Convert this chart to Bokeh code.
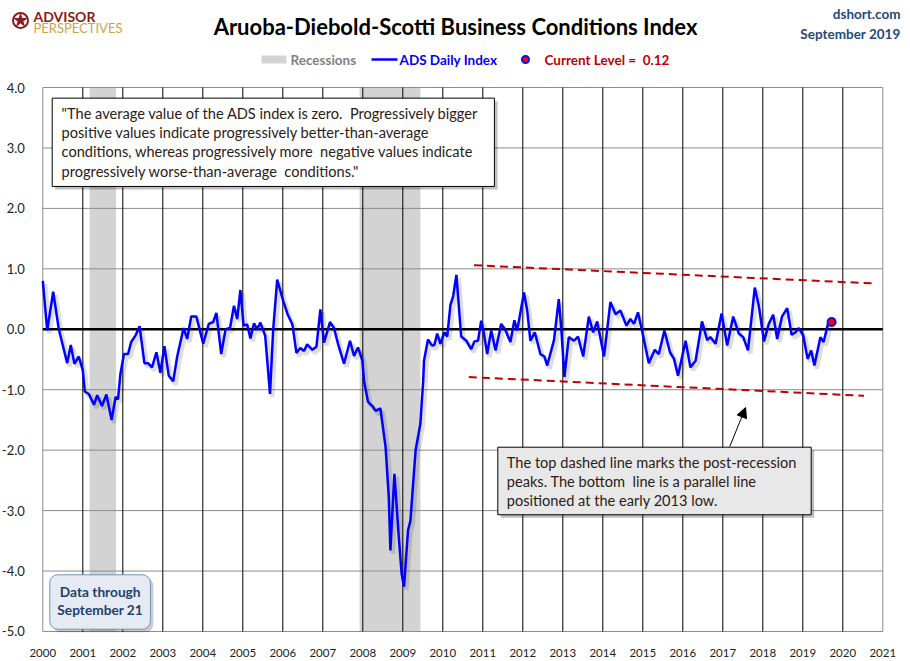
from bokeh.embed import file_html
from bokeh.layouts import column
from bokeh.models import (Arrow, FixedTicker, Label, NormalHead, NumeralTickFormatter, Range1d)
from bokeh.plotting import figure
from bokeh.resources import INLINE
import numpy as np

# ADS index (fractional year, index value)
ads_year = [
    2000.00, 2000.11, 2000.26, 2000.40, 2000.61, 2000.70, 2000.79, 2000.90,
    2001.00, 2001.05, 2001.15, 2001.28, 2001.36, 2001.48, 2001.59, 2001.72,
    2001.82, 2001.88, 2001.94, 2002.03, 2002.13, 2002.21, 2002.32, 2002.42,
    2002.54, 2002.63, 2002.73, 2002.84, 2002.94, 2003.04, 2003.15, 2003.26,
    2003.36, 2003.52, 2003.61, 2003.71, 2003.84, 2004.01, 2004.15, 2004.26,
    2004.34, 2004.46, 2004.57, 2004.68, 2004.78, 2004.86, 2004.94, 2005.02,
    2005.11, 2005.19, 2005.28, 2005.36, 2005.44, 2005.56, 2005.68, 2005.76,
    2005.86, 2006.01, 2006.12, 2006.24, 2006.34, 2006.44, 2006.53, 2006.61,
    2006.74, 2006.84, 2006.94, 2007.03, 2007.18, 2007.28, 2007.38, 2007.53,
    2007.68, 2007.78, 2007.88, 2007.99, 2008.03, 2008.13, 2008.24, 2008.32,
    2008.44, 2008.57, 2008.65, 2008.69, 2008.79, 2008.90, 2008.97, 2009.03,
    2009.13, 2009.19, 2009.32, 2009.44, 2009.51, 2009.53, 2009.63, 2009.73,
    2009.79, 2009.86, 2009.94, 2010.04, 2010.11, 2010.19, 2010.26, 2010.34,
    2010.46, 2010.59, 2010.71, 2010.79, 2010.88, 2010.96, 2011.03, 2011.11,
    2011.21, 2011.32, 2011.46, 2011.57, 2011.69, 2011.79, 2011.86, 2012.03,
    2012.11, 2012.19, 2012.30, 2012.44, 2012.54, 2012.61, 2012.78, 2012.90,
    2012.96, 2013.04, 2013.15, 2013.28, 2013.38, 2013.51, 2013.65, 2013.76,
    2013.86, 2014.03, 2014.19, 2014.32, 2014.44, 2014.59, 2014.69, 2014.78,
    2014.88, 2014.98, 2015.15, 2015.30, 2015.40, 2015.54, 2015.68, 2015.78,
    2015.88, 2016.07, 2016.19, 2016.32, 2016.48, 2016.61, 2016.69, 2016.82,
    2016.97, 2017.11, 2017.26, 2017.40, 2017.51, 2017.63, 2017.80, 2017.90,
    2018.03, 2018.15, 2018.26, 2018.36, 2018.48, 2018.61, 2018.72, 2018.82,
    2018.90, 2019.01, 2019.12, 2019.21, 2019.29, 2019.44, 2019.52, 2019.63,
    2019.72,
]
ads_value = [
    0.80, -0.02, 0.62, 0.00, -0.56, -0.26, -0.57, -0.45,
    -0.68, -1.03, -1.07, -1.25, -1.09, -1.27, -1.08, -1.50,
    -1.12, -1.16, -0.74, -0.41, -0.41, -0.21, -0.10, 0.05,
    -0.56, -0.56, -0.63, -0.38, -0.72, -0.28, -0.77, -0.86,
    -0.45, 0.02, -0.16, 0.21, 0.21, -0.24, 0.09, 0.12,
    0.27, -0.41, 0.00, 0.02, 0.39, 0.17, 0.65, 0.06,
    0.08, -0.15, 0.10, 0.00, 0.11, -0.11, -1.07, 0.00,
    0.82, 0.47, 0.25, 0.08, -0.39, -0.31, -0.36, -0.25,
    -0.34, -0.29, 0.33, -0.22, 0.12, 0.02, -0.24, -0.57,
    -0.19, -0.44, -0.30, -0.52, -0.85, -1.20, -1.27, -1.35,
    -1.31, -1.95, -2.78, -3.66, -2.39, -3.44, -4.04, -4.26,
    -3.33, -3.17, -2.00, -1.56, -0.85, -0.52, -0.17, -0.27,
    -0.26, -0.07, -0.24, -0.05, -0.12, 0.40, 0.55, 0.90,
    -0.12, -0.19, -0.33, -0.20, -0.19, 0.14, -0.08, -0.41,
    -0.02, -0.35, 0.09, -0.02, -0.21, 0.15, -0.02, 0.61,
    0.31, -0.19, -0.05, -0.41, -0.45, -0.60, -0.18, 0.50,
    0.03, -0.79, -0.13, -0.19, -0.12, -0.45, 0.21, -0.05,
    0.13, -0.45, 0.45, 0.25, 0.31, 0.06, 0.17, 0.09,
    0.28, -0.02, -0.56, -0.34, -0.41, -0.02, -0.38, -0.49,
    -0.77, -0.19, -0.63, -0.52, 0.13, -0.18, -0.13, -0.24,
    0.26, -0.27, 0.21, -0.07, -0.13, -0.35, 0.69, 0.39,
    -0.20, 0.09, 0.24, -0.16, 0.21, 0.35, -0.09, -0.05,
    0.02, -0.10, -0.49, -0.35, -0.60, -0.13, -0.21, 0.09,
    0.12,
]

current_year = [2019.72]
current_level = [0.12]

recession_start = [2001.17, 2007.92]
recession_end = [2001.83, 2009.44]

trend_top_x = [2010.78, 2020.73]
trend_top_y = [1.06, 0.76]
trend_bottom_x = [2010.65, 2020.53]
trend_bottom_y = [-0.79, -1.10]

year_labels = list(range(2000, 2022))
year_grid = list(range(2001, 2021))
value_ticks = [-5, -4, -3, -2, -1, 0, 1, 2, 3, 4]
X_START, X_END = 2000, 2021
Y_LOW, Y_HIGH = -5, 4

NB = "\u00a0"
quote_lines = [
    '"The average value of the ADS index is zero.' + NB + ' Progressively bigger',
    'positive values indicate progressively better-than-average',
    'conditions, whereas progressively more' + NB + ' negative values indicate',
    'progressively worse-than-average' + NB + ' conditions."',
]
note_lines = [
    'The top dashed line marks the post-recession',
    'peaks. The bottom' + NB + ' line is a parallel line',
    'positioned at the early 2013 low.',
]

FONT = "Lato"
W = 910
HEAD_H = 78

# ---------- header strip (title, branding, legend) ----------
head = figure(width=W, height=HEAD_H, x_range=Range1d(0, W), y_range=Range1d(HEAD_H, 0),
              x_axis_location=None, y_axis_location=None,
              output_backend="svg", toolbar_location=None,
              min_border_left=0, min_border_right=0, min_border_top=0, min_border_bottom=0)
head.grid.visible = False
head.outline_line_color = None
head.background_fill_color = "white"
head.border_fill_color = "white"


def head_text(x, y, text, size, color, bold=True, align="left"):
    head.add_layout(Label(x=x, y=y, text=text, text_font=FONT, text_font_size=size,
                          text_font_style="bold" if bold else "normal", text_color=color,
                          text_align=align, text_baseline="middle"))


# logo
head.scatter([20], [20], marker="circle", size=15, fill_color=None,
             line_color="#8b1a1a", line_width=2)
head.scatter([20], [20], marker="star", size=13, fill_color="#8b1a1a", line_color="#8b1a1a")
head_text(33, 16, "ADVISOR", "14px", "#8b1a1a")
head_text(33, 27.5, "PERSPECTIVES", "13px", "#c9a44c", bold=False)

head_text(455, 26, "Aruoba-Diebold-Scotti Business Conditions Index", "22px", "black",
          align="center")
head_text(900, 13, "dshort.com", "13.5px", "#1f497d", align="right")
head_text(900, 33, "September 2019", "13.5px", "#1f497d", align="right")

# legend
head.quad(left=[261], right=[286], top=[55], bottom=[63], fill_color="#d3d3d3",
          line_color=None)
head_text(290, 59, "Recessions", "13.5px", "#7f7f7f")
head.line([371, 397], [59, 59], line_color="#0000ff", line_width=2.5)
head_text(399, 59, "ADS Daily Index", "13.5px", "#0000ff")
head.scatter([525], [59], size=7, fill_color="#ff0000", line_color="#1010e0", line_width=2)
head_text(544, 59, "Current Level =" + NB + " 0.12", "13.5px", "#c00000")

# ---------- main chart ----------
# frame spans the full width so it lines up with the header; 2000..2021 sits at 42..882 px,
# and a little headroom above 4 / below -5 keeps the end tick labels inside the frame
p = figure(width=W, height=583, x_range=Range1d(1998.9425, 2021.6925),
           y_range=Range1d(-5.149, 4.149),
           output_backend="svg", toolbar_location=None,
           min_border_left=0, min_border_right=0, min_border_top=0, min_border_bottom=21)
p.background_fill_color = "white"
p.border_fill_color = "white"
p.outline_line_color = None

p.xaxis.ticker = FixedTicker(ticks=year_labels)
p.yaxis.ticker = FixedTicker(ticks=value_ticks)
p.yaxis.formatter = NumeralTickFormatter(format="0.0")
p.yaxis.fixed_location = X_START
for ax in (p.xaxis, p.yaxis):
    ax.axis_line_color = None
    ax.major_tick_line_color = None
    ax.minor_tick_line_color = None
    ax.major_label_text_font = FONT
    ax.major_label_text_color = "#222222"
p.xaxis.major_label_text_font_size = "11.5px"
p.yaxis.major_label_text_font_size = "13px"
p.xaxis.major_label_standoff = 2
p.yaxis.major_label_standoff = 12
p.grid.visible = False

# recessions
p.quad(left=recession_start, right=recession_end, top=Y_HIGH, bottom=Y_LOW,
       fill_color="#d3d3d3", line_color=None)

# grid, plot border and zero line, limited to the 2000-2021 / -5..4 box
n = len(value_ticks)
p.segment(x0=[X_START] * n, x1=[X_END] * n, y0=value_ticks, y1=value_ticks,
          line_color="#8c8c8c", line_width=1)
m = len(year_grid)
p.segment(x0=year_grid, x1=year_grid, y0=[Y_LOW] * m, y1=[Y_HIGH] * m,
          line_color="black", line_width=1)
p.segment(x0=[X_START, X_END], x1=[X_START, X_END], y0=[Y_LOW] * 2, y1=[Y_HIGH] * 2,
          line_color="#8c8c8c", line_width=1)
p.segment(x0=[X_START], x1=[X_END], y0=[0], y1=[0], line_color="black", line_width=2.5)

# trend lines
p.line(trend_top_x, trend_top_y, line_color="#c00000", line_width=2, line_dash="8 5")
p.line(trend_bottom_x, trend_bottom_y, line_color="#c00000", line_width=2, line_dash="8 5")

# index line with soft shadow
xs = np.array(ads_year)
ys = np.array(ads_value)
p.line(xs + 0.06, ys - 0.05, line_color="black", line_alpha=0.13, line_width=4.5)
p.line(xs, ys, line_color="#0000ff", line_width=2.5)
p.scatter(current_year, current_level, size=8, fill_color="#ff0000",
          line_color="#1010e0", line_width=2)


def box_text(x, y, text, size, color, bold=False, align="left"):
    p.add_layout(Label(x=x, y=y, text=text, text_font=FONT, text_font_size=size,
                       text_font_style="bold" if bold else "normal", text_color=color,
                       text_align=align, text_baseline="middle"))


# quote box
p.quad(left=2000.31, right=2011.37, top=3.774, bottom=2.313, fill_color="black",
       fill_alpha=0.25, line_color=None)
p.quad(left=2000.235, right=2011.29, top=3.824, bottom=2.363, fill_color="white",
       line_color="black", line_width=1)
for i, t in enumerate(quote_lines):
    box_text(2000.47, 3.575 - i * 0.321, t, "14.6px", "#2a2018")

# note box
p.quad(left=2011.45, right=2019.285, top=-2.001, bottom=-3.119, fill_color="black",
       fill_alpha=0.25, line_color=None)
p.quad(left=2011.375, right=2019.21, top=-1.951, bottom=-3.069, fill_color="#e8e8e8",
       line_color="black", line_width=1)
for i, t in enumerate(note_lines):
    box_text(2011.6, -2.199 - i * 0.317, t, "14.6px", "#2a2018")
p.add_layout(Arrow(end=NormalHead(size=10, fill_color="black", line_color="black"),
                   x_start=2017.175, y_start=-1.939, x_end=2017.57, y_end=-1.294,
                   line_color="black", line_width=1))

# data-through box
p.quad(left=2000.25, right=2002.765, top=-4.112, bottom=-5.012, fill_color="black",
       fill_alpha=0.2, line_color=None, border_radius=8)
p.quad(left=2000.175, right=2002.69, top=-4.062, bottom=-4.962, fill_color="#e6ebf3",
       line_color="#6f8fbf", line_width=1, border_radius=8)
for i, t in enumerate(["Data through", "September 21"]):
    box_text(2001.435, -4.338 - i * 0.293, t, "13.7px", "#1f3f6f", bold=True, align="center")

layout = column(head, p, spacing=0)
open("out.html", "w").write(file_html(layout, INLINE))
